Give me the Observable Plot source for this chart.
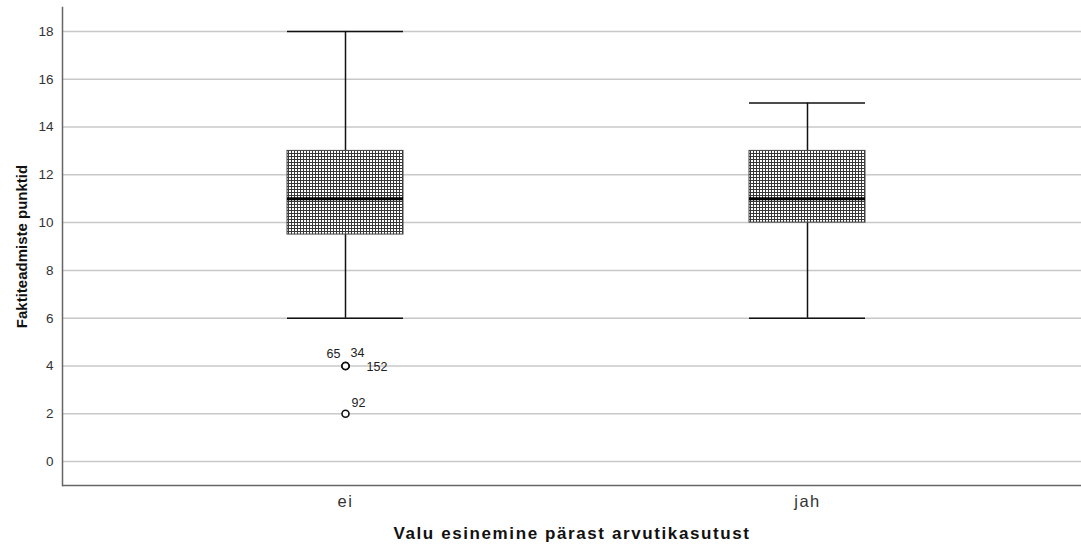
<!DOCTYPE html>
<html>
<head>
<meta charset="utf-8">
<script src="https://cdn.jsdelivr.net/npm/d3@7"></script>
<script src="https://cdn.jsdelivr.net/npm/@observablehq/plot@0.6"></script>
<style>
  html, body { margin: 0; padding: 0; background: #fff; }
  #chart { width: 1081px; height: 550px; }
  .wide text { letter-spacing: 1.5px; }
  .wideTitle text { letter-spacing: 1.6px; }
</style>
</head>
<body>
<div id="chart"></div>
<script>
// ---- data ----
const groups = ["ei", "jah"];
const whiskerLow = [6, 6];
const q1 = [9.5, 10];
const median = [11, 11];
const q3 = [13, 13];
const whiskerHigh = [18, 15];

const outlierGroup = ["ei", "ei", "ei", "ei"];
const outlierValue = [4, 4, 4, 2];
const outlierId = ["65", "34", "152", "92"];

const yTicks = [0, 2, 4, 6, 8, 10, 12, 14, 16, 18];
const xTitle = "Valu esinemine pärast arvutikasutust";
const yTitle = "Faktiteadmiste punktid";

// ---- build tables ----
const boxes = groups.map((g, i) => ({
  group: g, lo: whiskerLow[i], q1: q1[i], med: median[i], q3: q3[i], hi: whiskerHigh[i]
}));
const outliers = outlierGroup.map((g, i) => ({group: g, value: outlierValue[i], id: outlierId[i]}));

// label offsets (style)
const labelOffset = {"65": [-12, -12, "middle"], "34": [12, -13, "middle"], "152": [21, 1, "start"], "92": [13, -11, "middle"]};

const font = "'Liberation Sans', Arial, Helvetica, sans-serif";

const chart = Plot.plot({
  width: 1081,
  height: 550,
  marginLeft: 62,
  marginRight: 0,
  marginTop: 7,
  marginBottom: 65,
  style: {fontFamily: font, color: "#222", background: "#fff"},
  x: {type: "band", domain: groups, paddingInner: 0.749, paddingOuter: 0.477, align: 0.51, label: null},
  y: {domain: [-1, 19], label: null},
  marks: [
    Plot.gridY(yTicks, {stroke: "#c8c8c8", strokeOpacity: 1, strokeWidth: 1.5}),
    Plot.axisY(yTicks, {tickSize: 0, tickPadding: 9, fontSize: 13.5, label: null, fill: "#333"}),
    Plot.axisX({tickSize: 0, tickPadding: 10, fontSize: 16.5, label: null, fill: "#333", className: "wide"}),
    Plot.ruleY([-1], {stroke: "#666", strokeWidth: 1.5}),
    Plot.frame({anchor: "left", stroke: "#666", strokeWidth: 1.5}),
    // whiskers
    Plot.ruleX(boxes, {x: "group", y1: "lo", y2: "q1", stroke: "#111", strokeWidth: 1.5}),
    Plot.ruleX(boxes, {x: "group", y1: "q3", y2: "hi", stroke: "#111", strokeWidth: 1.5}),
    Plot.tickY(boxes, {x: "group", y: "lo", stroke: "#111", strokeWidth: 1.5}),
    Plot.tickY(boxes, {x: "group", y: "hi", stroke: "#111", strokeWidth: 1.5}),
    // box
    Plot.barY(boxes, {x: "group", y1: "q1", y2: "q3", fill: "url(#checker)", stroke: "#444", strokeWidth: 1}),
    Plot.tickY(boxes, {x: "group", y: "med", stroke: "#000", strokeWidth: 3}),
    // outliers
    Plot.dot(outliers, {x: "group", y: "value", r: 3.5, stroke: "#111", strokeWidth: 1.6, fill: "#fff"}),
    ...outliers.map(o => Plot.text([o], {
      x: "group", y: "value", text: "id",
      dx: labelOffset[o.id][0], dy: labelOffset[o.id][1], textAnchor: labelOffset[o.id][2],
      fontSize: 12.5, fill: "#222"
    })),
    // titles
    Plot.text([xTitle], {frameAnchor: "bottom", dy: 53, fontSize: 17, fontWeight: "bold", fill: "#111", className: "wideTitle"}),
    Plot.text([yTitle], {frameAnchor: "left", dx: -40, rotate: -90, textAnchor: "middle", fontSize: 15, fontWeight: "bold", fill: "#111"})
  ]
});

// pattern definition for the checkered box fill
const svgNS = "http://www.w3.org/2000/svg";
const defs = document.createElementNS(svgNS, "defs");
const pat = document.createElementNS(svgNS, "pattern");
pat.setAttribute("id", "checker");
pat.setAttribute("patternUnits", "userSpaceOnUse");
pat.setAttribute("width", "3");
pat.setAttribute("height", "3");
const bg = document.createElementNS(svgNS, "rect");
bg.setAttribute("width", "3"); bg.setAttribute("height", "3"); bg.setAttribute("fill", "#383838");
const sq = document.createElementNS(svgNS, "rect");
sq.setAttribute("x", "1"); sq.setAttribute("y", "1");
sq.setAttribute("width", "2"); sq.setAttribute("height", "2"); sq.setAttribute("fill", "#ffffff");
pat.appendChild(bg); pat.appendChild(sq);
defs.appendChild(pat);
const svgEl = chart.tagName.toLowerCase() === "svg" ? chart : chart.querySelector("svg");
svgEl.insertBefore(defs, svgEl.firstChild);

document.getElementById("chart").appendChild(chart);
</script>
</body>
</html>
